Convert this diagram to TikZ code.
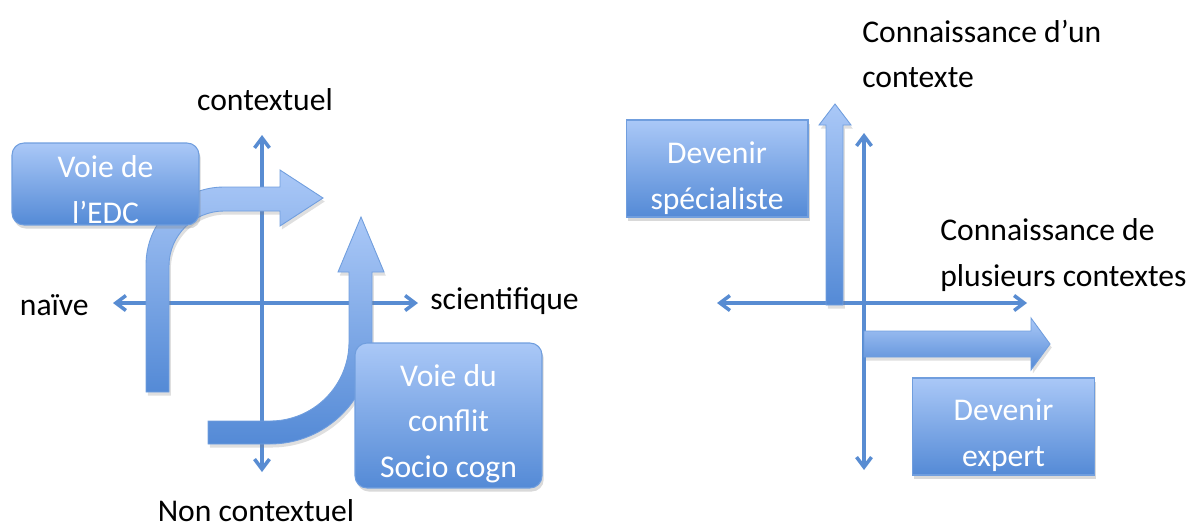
\documentclass[tikz,border=0pt]{standalone}
\usepackage{fontspec}
\setmainfont{Carlito}
\usetikzlibrary{arrows.meta, shadows}

\definecolor{axisblue}{RGB}{88,140,210}
\definecolor{lightblue}{RGB}{170,200,247}
\definecolor{darkblue}{RGB}{84,138,214}
\definecolor{edgeblue}{RGB}{112,158,222}

% pushes the first line of a box down
\newcommand{\boxdrop}[1]{\rule{0pt}{#1}}

\begin{document}
\begin{tikzpicture}[
        x=0.02cm, y=-0.02cm,
        font=\fontsize{18}{26}\selectfont,
        axis/.style={draw=axisblue, line width=2pt, {Straight Barb[length=0.2cm, width=0.3cm]}-{Straight Barb[length=0.2cm, width=0.3cm]}},
        voie/.style={draw=edgeblue, line width=0.6pt, rounded corners=0.24cm, top color=lightblue, bottom color=darkblue, text=white, align=center, inner sep=0pt, minimum width=3.74cm, drop shadow={opacity=0.3, shadow xshift=1pt, shadow yshift=-2pt}},
        devenir/.style={draw=edgeblue, line width=0.6pt, top color=lightblue, bottom color=darkblue, text=white, align=center, inner sep=0pt, minimum width=3.64cm, minimum height=1.94cm, drop shadow={opacity=0.3, shadow xshift=1pt, shadow yshift=-2pt}},
        bigarrow/.style={draw=edgeblue, line width=0.5pt, top color=lightblue, bottom color=darkblue, drop shadow={opacity=0.25, shadow xshift=1pt, shadow yshift=-2pt}},
        label/.style={inner sep=0pt, align=left}
    ]
        \useasboundingbox (0,0) rectangle (1192,528);

        % left: axes
        \coordinate (gW) at (113,303);
        \coordinate (gE) at (418,303);
        \coordinate (gN) at (262,135);
        \coordinate (gS) at (262,472);
        \draw[axis] (gW) -- (gE);
        \draw[axis] (gN) -- (gS);

        % left: the two ways
        \shade[bigarrow] (146,392) -- (146,265) arc (180:270:78) -- (280,187) -- (280,170) -- (323,198)
            -- (280,226) -- (280,211) -- (224,211) arc (270:180:55) -- (169,392) -- cycle;
        \shade[bigarrow] (208,421) -- (270,421) arc (90:0:79) -- (349,272) -- (338,272) -- (361,217)
            -- (384,272) -- (372,272) -- (372,342) arc (0:90:102) -- (208,444) -- cycle;

        \node[voie, minimum height=1.64cm] (edc) at (105.5,184) {\boxdrop{19pt}Voie de\\l’EDC};
        \node[voie, minimum height=2.9cm] (conflit) at (448.5,415.5) {\boxdrop{21.5pt}Voie du\\conflit\\Socio cogn};

        \node[label] (ctx) at (265,100) {contextuel};
        \node[label, anchor=east] (naive) at (89,305) {naïve};
        \node[label, anchor=west] (sci) at (430,301) {scientifique};
        \node[label] (nonctx) at (256,511) {Non contextuel};

        % right: axes
        \coordinate (dW) at (717,303);
        \coordinate (dE) at (1027,303);
        \coordinate (dN) at (864,133);
        \coordinate (dS) at (864,470);
        \draw[axis] (dW) -- (dE);
        \draw[axis] (dN) -- (dS);

        % right: the two directions
        \shade[bigarrow] (826,305) -- (826,125) -- (819,125) -- (835,104) -- (851,125) -- (843,125) -- (843,305) -- cycle;
        \shade[bigarrow] (864,331) -- (1031,331) -- (1031,318) -- (1050,344) -- (1031,370) -- (1031,357) -- (864,357) -- cycle;

        \node[devenir] (spec) at (717,168.5) {\boxdrop{23.5pt}Devenir\\spécialiste};
        \node[devenir] (expert) at (1003.5,426.5) {\boxdrop{22.5pt}Devenir\\expert};

        \node[label, anchor=west] (unctx) at (862,54) {Connaissance d’un\\contexte};
        \node[label, anchor=west] (plusctx) at (940,255) {Connaissance de\\plusieurs contextes};
\end{tikzpicture}
\end{document}
